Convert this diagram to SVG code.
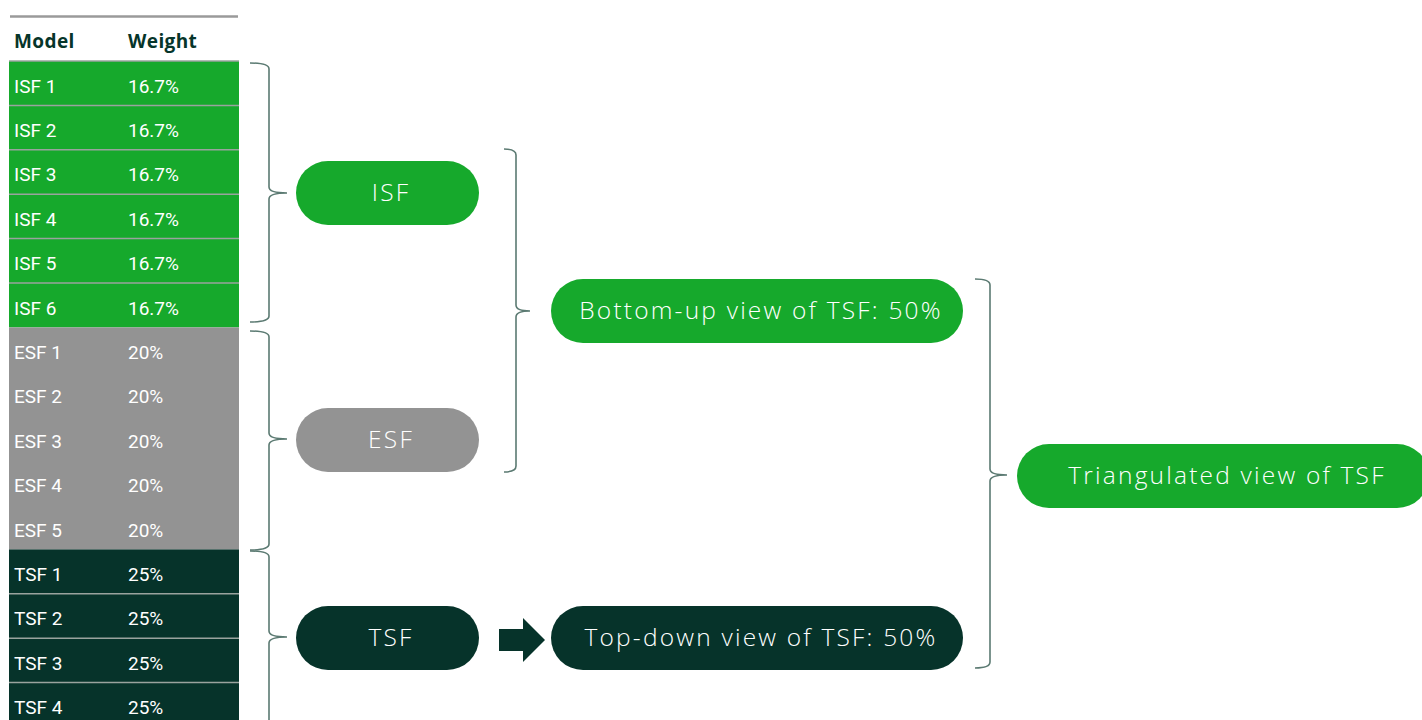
<svg xmlns="http://www.w3.org/2000/svg" width="1422" height="720" viewBox="0 0 1422 720">
<style>
.hdr{font-family:"Open Sans","Liberation Sans",sans-serif;font-weight:700;font-size:19px;letter-spacing:0.4px;fill:#06352a}
.cell{font-family:Roboto,"Liberation Sans",sans-serif;font-size:19px;fill:#ffffff}
.pill{font-family:"Open Sans","Liberation Sans",sans-serif;font-weight:300;font-size:24.5px;letter-spacing:2.2px;fill:#ffffff;text-anchor:middle}
.g{fill:#16a92c}.gr{fill:#939393}.d{fill:#06332a}
.sep{stroke:#9aa39e;stroke-width:1.5}
.brace{fill:none;stroke:#5b7a72;stroke-width:1.6}
</style>
<rect width="1422" height="720" fill="#ffffff"/>
<g id="table">
<line x1="10" y1="16.5" x2="238" y2="16.5" stroke="#9a9a9a" stroke-width="2.5"/>
<text class="hdr" x="14" y="48">Model</text>
<text class="hdr" x="128" y="48">Weight</text>
<rect class="g" x="9" y="61" width="230" height="266.4"/>
<rect class="gr" x="9" y="327.4" width="230" height="222"/>
<rect class="d" x="9" y="549.4" width="230" height="172"/>
<line class="sep" x1="9" y1="61" x2="239" y2="61"/>
<line class="sep" x1="9" y1="105.4" x2="239" y2="105.4"/>
<line class="sep" x1="9" y1="149.8" x2="239" y2="149.8"/>
<line class="sep" x1="9" y1="194.2" x2="239" y2="194.2"/>
<line class="sep" x1="9" y1="238.6" x2="239" y2="238.6"/>
<line class="sep" x1="9" y1="283" x2="239" y2="283"/>
<line class="sep" x1="9" y1="593.8" x2="239" y2="593.8"/>
<line class="sep" x1="9" y1="638.2" x2="239" y2="638.2"/>
<line class="sep" x1="9" y1="682.6" x2="239" y2="682.6"/>
<text class="cell" x="14" y="92.5">ISF 1</text><text class="cell" x="128" y="92.5">16.7%</text>
<text class="cell" x="14" y="136.9">ISF 2</text><text class="cell" x="128" y="136.9">16.7%</text>
<text class="cell" x="14" y="181.3">ISF 3</text><text class="cell" x="128" y="181.3">16.7%</text>
<text class="cell" x="14" y="225.7">ISF 4</text><text class="cell" x="128" y="225.7">16.7%</text>
<text class="cell" x="14" y="270.1">ISF 5</text><text class="cell" x="128" y="270.1">16.7%</text>
<text class="cell" x="14" y="314.5">ISF 6</text><text class="cell" x="128" y="314.5">16.7%</text>
<text class="cell" x="14" y="358.9">ESF 1</text><text class="cell" x="128" y="358.9">20%</text>
<text class="cell" x="14" y="403.3">ESF 2</text><text class="cell" x="128" y="403.3">20%</text>
<text class="cell" x="14" y="447.7">ESF 3</text><text class="cell" x="128" y="447.7">20%</text>
<text class="cell" x="14" y="492.1">ESF 4</text><text class="cell" x="128" y="492.1">20%</text>
<text class="cell" x="14" y="536.5">ESF 5</text><text class="cell" x="128" y="536.5">20%</text>
<text class="cell" x="14" y="580.9">TSF 1</text><text class="cell" x="128" y="580.9">25%</text>
<text class="cell" x="14" y="625.3">TSF 2</text><text class="cell" x="128" y="625.3">25%</text>
<text class="cell" x="14" y="669.7">TSF 3</text><text class="cell" x="128" y="669.7">25%</text>
<text class="cell" x="14" y="714.1">TSF 4</text><text class="cell" x="128" y="714.1">25%</text>
</g>
<g id="connectors">
<path class="brace" d="M250,63 Q269,63 269,69 L269,187 Q269,193 287,193 Q269,193 269,199 L269,316 Q269,322 250,322"/>
<path class="brace" d="M250,331 Q269,331 269,337 L269,433 Q269,439 287,439 Q269,439 269,445 L269,544 Q269,550 250,550"/>
<path class="brace" d="M250,551 Q269,551 269,557 L269,631 Q269,637 287,637 Q269,637 269,643 L269,730"/>
<path class="brace" d="M504,149 Q516,149 516,155 L516,305 Q516,311 530,311 Q516,311 516,317 L516,466 Q516,472 504,472"/>
<path class="brace" d="M975,279 Q990,279 990,285 L990,469 Q990,475 1007,475 Q990,475 990,481 L990,662 Q990,668 975,668"/>
<polygon points="499,629 523,629 523,618 545,640 523,662 523,651 499,651" fill="#06332a"/>
</g>
<g id="node-isf"><rect class="g" x="296" y="161" width="183" height="64" rx="32"/><text class="pill" x="391" y="201">ISF</text></g>
<g id="node-esf"><rect class="gr" x="296" y="408" width="183" height="64" rx="32"/><text class="pill" x="391" y="448">ESF</text></g>
<g id="node-tsf"><rect class="d" x="296" y="606" width="183" height="64" rx="32"/><text class="pill" x="391" y="646">TSF</text></g>
<g id="node-bottomup"><rect class="g" x="551" y="279" width="412" height="64" rx="32"/><text class="pill" x="761" y="319">Bottom-up view of TSF: 50%</text></g>
<g id="node-topdown"><rect class="d" x="551" y="606" width="412" height="64" rx="32"/><text class="pill" x="761" y="646">Top-down view of TSF: 50%</text></g>
<g id="node-triangulated"><rect class="g" x="1017" y="444" width="412" height="64" rx="32"/><text class="pill" x="1227" y="484">Triangulated view of TSF</text></g>
</svg>
